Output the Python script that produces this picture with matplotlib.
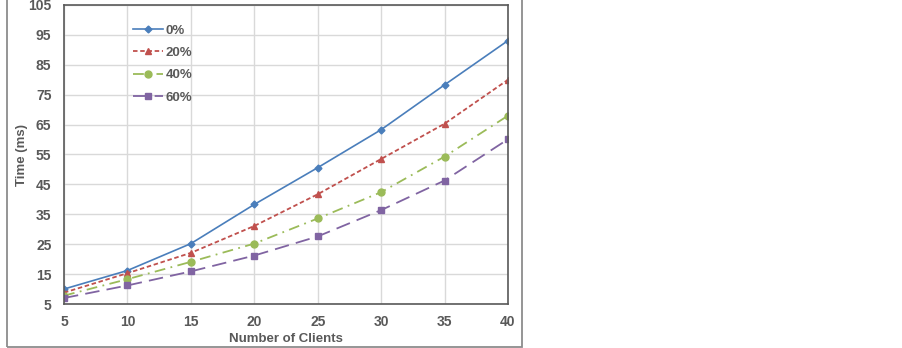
import matplotlib.pyplot as plt
from matplotlib.patches import Rectangle

clients = [5, 10, 15, 20, 25, 30, 35, 40]
t_0 = [10.0, 16.2, 25.2, 38.3, 50.6, 63.3, 78.3, 93.1]
t_20 = [8.8, 15.3, 22.1, 31.1, 41.7, 53.5, 65.3, 80.0]
t_40 = [7.8, 13.3, 19.1, 25.2, 33.6, 42.4, 54.3, 68.0]
t_60 = [7.0, 11.2, 15.9, 21.2, 27.6, 36.4, 46.3, 60.1]
labels = ['0%', '20%', '40%', '60%']

W, H = 903, 348
txt = '#595959'
plt.rcParams['font.family'] = ['Liberation Sans', 'DejaVu Sans']
plt.rcParams['font.weight'] = 'bold'

fig = plt.figure(figsize=(W / 100, H / 100), dpi=100)

# outer chart frame (left part of the image only)
fig.patches.append(Rectangle((7 / W, 1 / H), (522 - 7) / W, 1.2,
                             transform=fig.transFigure, fill=False,
                             edgecolor='#8c8c8c', linewidth=1.3))

ax = fig.add_axes([64 / W, (H - 304) / H, (508 - 64) / W, (304 - 5) / H])

ax.plot(clients, t_0, color='#4a7ebb', lw=1.2, ls='-', marker='D', ms=3.5, label=labels[0])
ax.plot(clients, t_20, color='#c0504d', lw=1.3, ls=(0, (2.5, 1.5)), marker='^', ms=5, label=labels[1])
ax.plot(clients, t_40, color='#9bbb59', lw=1.3, ls=(0, (6, 3, 1, 3)), marker='o', ms=5, label=labels[2])
ax.plot(clients, t_60, color='#8064a2', lw=1.3, ls=(0, (8, 4)), marker='s', ms=5, label=labels[3])

ax.set_xlim(5, 40)
ax.set_ylim(5, 105)
ax.set_xticks(clients)
ax.set_yticks(range(5, 106, 10))
ax.grid(True, color='#d9d9d9', lw=1)
ax.set_axisbelow(True)
for s in ax.spines.values():
    s.set_color('#595959')
    s.set_linewidth(1.2)
ax.tick_params(length=0, labelsize=10, labelcolor=txt)
ax.tick_params(axis='x', pad=8)
ax.tick_params(axis='y', pad=9)
for lab in ax.get_xticklabels() + ax.get_yticklabels():
    lab.set_fontweight('bold')

ax.set_xlabel('Number of Clients', fontsize=9.5, color=txt, fontweight='bold')
ax.set_ylabel('Time (ms)', fontsize=9.5, color=txt, fontweight='bold')
ax.xaxis.set_label_coords(0.5, -0.097)
ax.yaxis.set_label_coords(-0.082, 0.5)

leg = ax.legend(loc='upper left', bbox_to_anchor=(0.128, 0.975), frameon=False,
                handlelength=2.3, handletextpad=0.2, labelspacing=0.77,
                prop={'size': 9.5, 'weight': 'bold'})
for t in leg.get_texts():
    t.set_color(txt)

fig.savefig('out.png', dpi=100)
